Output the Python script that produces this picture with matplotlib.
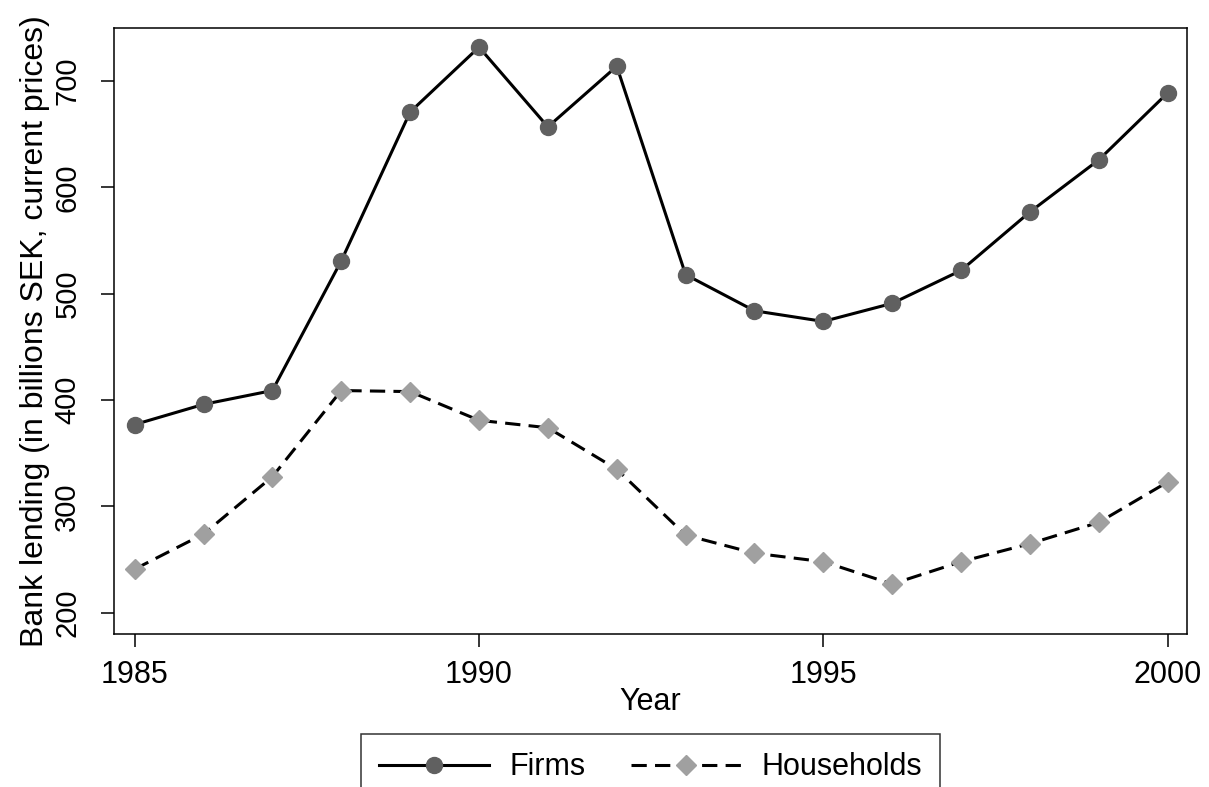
import matplotlib
matplotlib.use("Agg")
import matplotlib.pyplot as plt

years = [1985, 1986, 1987, 1988, 1989, 1990, 1991, 1992,
         1993, 1994, 1995, 1996, 1997, 1998, 1999, 2000]
firms = [377, 396, 409, 531, 671, 732, 657, 714,
         518, 484, 474, 491, 522, 577, 626, 689]
households = [241, 274, 328, 409, 408, 381, 374, 335,
              273, 256, 248, 227, 248, 265, 285, 323]

y_ticks = [200, 300, 400, 500, 600, 700]
x_ticks = [1985, 1990, 1995, 2000]

plt.rcParams['font.family'] = ['Liberation Sans', 'DejaVu Sans']

fig = plt.figure(figsize=(12.09, 7.87), dpi=100)
# frame: x 114..1187, y 28..634 px
ax = fig.add_axes([114 / 1209, 1 - 634 / 787, 1073 / 1209, 606 / 787])

ax.plot(years, firms, color='black', lw=2.2, marker='o', ms=11.5,
        mfc='#606060', mec='#606060', label='Firms')
ax.plot(years, households, color='black', lw=2.2, dashes=(5, 2.7),
        marker='D', ms=10.5, mfc='#a0a0a0', mec='#a0a0a0', label='Households')

ax.set_xlim(1984.70, 2000.28)
ax.set_ylim(180, 750)
ax.set_xticks(x_ticks)
ax.set_yticks(y_ticks)
ax.tick_params(direction='out', length=9.5, width=1.1)
ax.tick_params(axis='x', pad=9, labelsize=22)
ax.tick_params(axis='y', pad=14, labelsize=21)
for lab in ax.get_yticklabels():
    lab.set_rotation(90)
    lab.set_va('center')
for sp in ax.spines.values():
    sp.set_linewidth(1.1)

ax.set_xlabel('Year', fontsize=22, labelpad=-2)
ax.set_ylabel('Bank lending (in billions SEK, current prices)', fontsize=23)
ax.yaxis.set_label_coords(-64 / 1073, 0.5)

leg = fig.legend(loc='upper center', bbox_to_anchor=(650.5 / 1209, 1 - 734 / 787), ncol=2,
                 fontsize=22, frameon=True, fancybox=False, handlelength=3.6,
                 columnspacing=1.5, borderpad=0.6, handletextpad=0.65,
                 borderaxespad=0)
leg.get_frame().set_edgecolor('black')
leg.get_frame().set_linewidth(1.1)

fig.savefig('out.png', dpi=100)
